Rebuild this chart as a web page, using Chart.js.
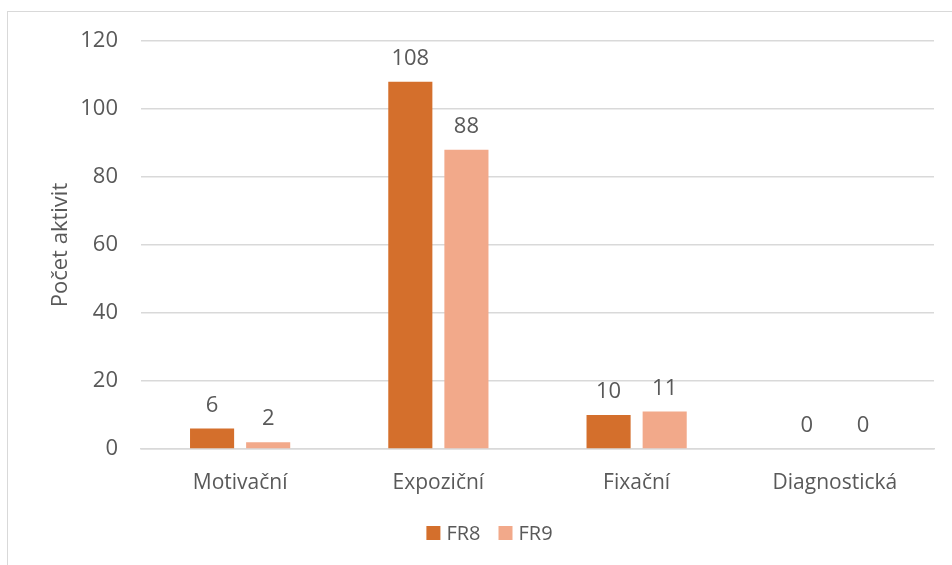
<!DOCTYPE html>
<html>
<head>
<meta charset="utf-8">
<script src="https://cdn.jsdelivr.net/npm/chart.js@4/dist/chart.umd.min.js"></script>
<style>
  html, body { margin: 0; padding: 0; background: #ffffff; overflow: hidden; }
  #frame {
    position: absolute; left: 7px; top: 11px; width: 980px; height: 600px;
    border: 1.5px solid #d9d9d9; box-sizing: border-box;
  }
  #wrap { position: absolute; left: 0; top: 0; width: 952px; height: 565px; }
</style>
</head>
<body>
<div id="frame"></div>
<div id="wrap"><canvas id="chart" width="952" height="565"></canvas></div>
<script>
// Počet aktivit podle typu a skupiny
const categories = ['Motivační', 'Expoziční', 'Fixační', 'Diagnostická'];
const fr8Values = [6, 108, 10, 0];
const fr9Values = [2, 88, 11, 0];
const yTicks = [0, 20, 40, 60, 80, 100, 120];

const TEXT = '#595959';
const FONT = "'Open Sans', 'Noto Sans', sans-serif";

// Writes each bar's value above it
const valueLabels = {
  id: 'valueLabels',
  afterDatasetsDraw(chart) {
    const ctx = chart.ctx;
    ctx.save();
    ctx.fillStyle = TEXT;
    ctx.font = '22px ' + FONT;
    ctx.textAlign = 'center';
    ctx.textBaseline = 'alphabetic';
    chart.data.datasets.forEach((ds, i) => {
      chart.getDatasetMeta(i).data.forEach((bar, j) => {
        ctx.fillText(String(ds.data[j]), bar.x, bar.y - 17);
      });
    });
    ctx.restore();
  }
};

// Legend row under the axis: a square swatch followed by the series name
const legendRow = {
  id: 'legendRow',
  afterDraw(chart) {
    const ctx = chart.ctx;
    const box = 14, gapText = 6, gapItem = 18, cy = 533;
    ctx.save();
    ctx.font = '20px ' + FONT;
    ctx.textBaseline = 'middle';
    ctx.textAlign = 'left';
    const items = chart.data.datasets.map(ds => ({
      text: ds.label, color: ds.backgroundColor, w: ctx.measureText(ds.label).width
    }));
    const total = items.reduce((s, it) => s + box + gapText + it.w, 0) + gapItem * (items.length - 1);
    let x = 489.5 - total / 2;
    items.forEach(it => {
      ctx.fillStyle = it.color;
      ctx.fillRect(x, cy - box / 2, box, box);
      x += box + gapText;
      ctx.fillStyle = TEXT;
      ctx.fillText(it.text, x, cy + 1);
      x += it.w + gapItem;
    });
    ctx.restore();
  }
};

new Chart(document.getElementById('chart'), {
  type: 'bar',
  data: {
    labels: categories,
    datasets: [
      { label: 'FR8', data: fr8Values, backgroundColor: '#d46f2c' },
      { label: 'FR9', data: fr9Values, backgroundColor: '#f2a98a' }
    ]
  },
  options: {
    responsive: false,
    animation: false,
    devicePixelRatio: 1,
    layout: { padding: { left: 0, right: 18, top: 41, bottom: 51 } },
    datasets: { bar: { categoryPercentage: 0.566, barPercentage: 0.786 } },
    scales: {
      x: {
        grid: { display: false },
        border: { display: true, color: '#d9d9d9', width: 1.5 },
        ticks: { color: TEXT, font: { family: FONT, size: 21 }, padding: 13 },
        afterFit(scale) { scale.height = 65; }
      },
      y: {
        min: 0, max: 120,
        afterBuildTicks(scale) { scale.ticks = yTicks.map(v => ({ value: v })); },
        grid: { color: '#d9d9d9', lineWidth: 1.5, drawTicks: false },
        border: { display: false },
        ticks: { color: TEXT, font: { family: FONT, size: 22 }, padding: 23 },
        title: {
          display: true, text: 'Počet aktivit', color: TEXT,
          font: { family: FONT, size: 22 }, padding: { top: 48, bottom: 0 }
        },
        afterFit(scale) { scale.width = 141; }
      }
    },
    plugins: {
      legend: { display: false },
      tooltip: { enabled: false }
    }
  },
  plugins: [valueLabels, legendRow]
});
</script>
</body>
</html>
